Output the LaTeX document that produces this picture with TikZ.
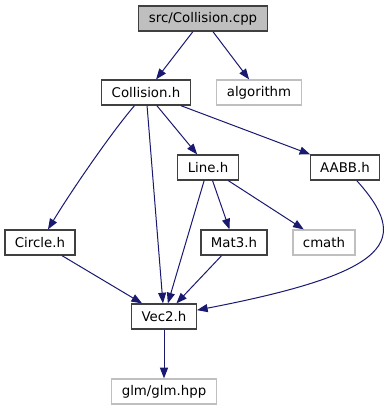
\documentclass[tikz,border=0pt]{standalone}
\usepackage{fontspec}
\setmainfont{DejaVu Sans}
\usetikzlibrary{arrows.meta}
\definecolor{edgeblue}{HTML}{191970}
\definecolor{sysgray}{HTML}{BFBFBF}
\definecolor{boxgray}{HTML}{404040}

\begin{document}
\begin{tikzpicture}[x=0.75pt, y=-0.75pt, font=\fontsize{10pt}{12pt}\selectfont,
		file/.style={draw=boxgray, line width=0.9pt, fill=white, inner xsep=7.5pt, inner ysep=0pt, minimum height=18.75pt},
		sys/.style={file, draw=sysgray},
		root/.style={file, fill=sysgray},
		dep/.style={edgeblue, line width=0.75pt, -{Triangle[length=8pt, width=6pt]}}]
		\useasboundingbox (0, 0) rectangle (387, 411);

		\node[root] (cpp) at (203, 18.5) {src/Collision.cpp};
		\node[file] (coll) at (146, 92.5) {Collision.h};
		\node[sys] (algo) at (259, 92.5) {algorithm};
		\node[file] (line) at (208, 167.5) {Line.h};
		\node[file] (aabb) at (345, 167.5) {AABB.h};
		\node[file] (circle) at (40, 242.5) {Circle.h};
		\node[file] (mat3) at (234, 242.5) {Mat3.h};
		\node[sys] (cmath) at (324, 242.5) {cmath};
		\node[file] (vec2) at (164, 316.5) {Vec2.h};
		\node[sys] (glm) at (164, 391.5) {glm/glm.hpp};

		\draw[dep] (cpp) -- (coll);
		\draw[dep] (cpp) -- (algo);
		\draw[dep] (coll) .. controls (115, 128) and (75, 185) .. (circle);
		\draw[dep] (coll) -- (vec2);
		\draw[dep] (coll) -- (line);
		\draw[dep] (coll) -- (aabb);
		\draw[dep] (line) -- (vec2);
		\draw[dep] (line) -- (mat3);
		\draw[dep] (line) -- (cmath);
		\draw[dep] (aabb) .. controls (410, 240) and (395, 272) .. (vec2);
		\draw[dep] (circle) -- (vec2);
		\draw[dep] (mat3) -- (vec2);
		\draw[dep] (vec2) -- (glm);
	\end{tikzpicture}
\end{document}
